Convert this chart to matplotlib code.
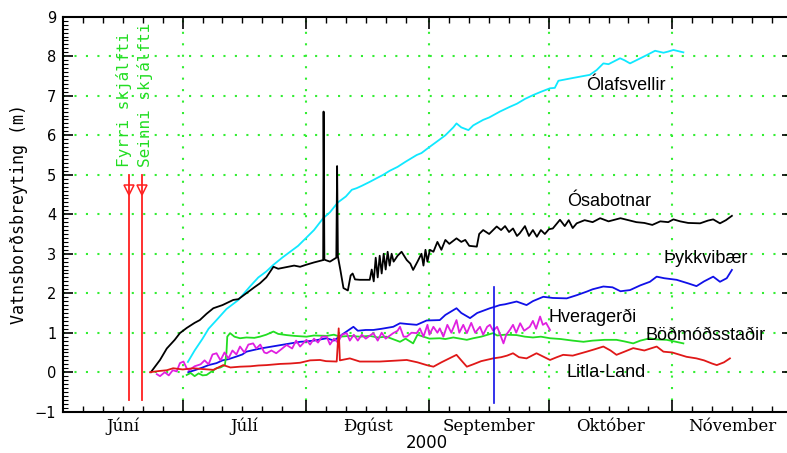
import numpy as np
import matplotlib
matplotlib.use('Agg')
import matplotlib.pyplot as plt
from matplotlib.ticker import FixedLocator, MultipleLocator, NullFormatter

# x is days since 1 June 2000, y is water level change (m)
month_starts = [0, 30, 61, 92, 122, 153, 183]
month_names = ['Júní', 'Júlí', 'Ðgúst', 'September', 'Október', 'Nóvember']

quake_days = [16.5, 19.9]
quake_labels = ['Fyrri skjálfti', 'Seinni skjálfti']

olafsvellir = [(31.3, 0.26), (33, 0.55), (35, 0.85), (36.5, 1.1), (38.5, 1.32), (41, 1.6),
               (44, 1.83), (46.9, 2.17), (49, 2.4), (51, 2.55), (52.8, 2.72), (55, 2.9),
               (57, 3.05), (59, 3.2), (61, 3.4), (63, 3.6), (65.3, 3.9), (67, 4.05),
               (69, 4.3), (71, 4.45), (72.5, 4.62), (73.7, 4.66), (75, 4.72), (77, 4.82),
               (78.5, 4.9), (80.4, 5.0), (82, 5.1), (84, 5.2), (86, 5.33), (88.8, 5.5),
               (90, 5.55), (92.1, 5.71), (94, 5.85), (96, 6.0), (98, 6.2), (98.8, 6.3),
               (100, 6.2), (101.8, 6.13), (103, 6.25), (105.5, 6.39), (107, 6.45),
               (109.7, 6.6), (112.2, 6.72), (114, 6.8), (116, 6.92), (118.1, 7.02),
               (120, 7.1), (122.3, 7.19), (123.5, 7.2), (124.4, 7.38), (128, 7.45),
               (132.3, 7.53), (134, 7.65), (135.7, 7.82), (137, 7.8), (139.9, 7.95),
               (141, 7.9), (142.4, 7.82), (144, 7.9), (146.6, 8.03), (148.7, 8.14),
               (150.8, 8.09), (152, 8.12), (153.3, 8.16), (155.8, 8.1)]

osabotnar = [(22, 0.0), (24.3, 0.31), (26, 0.6), (28, 0.82), (29.3, 0.99), (31, 1.12),
             (33, 1.25), (34.3, 1.32), (36, 1.48), (37.7, 1.62), (40, 1.7), (42.7, 1.83),
             (44, 1.85), (46, 2.0), (48, 2.15), (49.4, 2.25), (51, 2.4), (52.8, 2.67),
             (54, 2.62), (56, 2.66), (58, 2.7), (59.5, 2.67), (61, 2.72), (63, 2.78),
             (65.3, 2.84), (65.4, 6.6), (65.6, 2.85), (67, 2.8), (68.6, 2.9), (68.8, 5.22),
             (69.0, 2.93), (69.6, 2.6), (70.4, 2.13), (71.5, 2.07), (72.2, 2.45),
             (72.7, 2.5), (73.3, 2.35), (74.5, 2.34), (77, 2.34), (77.5, 2.6), (78, 2.3),
             (78.5, 2.9), (79, 2.4), (79.5, 2.95), (80, 2.5), (80.5, 3.0), (81, 2.6),
             (81.5, 3.05), (82, 2.7), (82.5, 3.0), (83, 2.8), (84, 2.95), (85, 3.05),
             (86.3, 2.84), (87.2, 2.75), (87.9, 2.59), (89, 2.8), (90, 3.0), (90.5, 2.7),
             (91, 3.1), (91.5, 2.8), (92.1, 3.1), (93, 3.05), (94, 3.3), (95, 3.1),
             (96, 3.35), (97, 3.25), (98.8, 3.39), (100, 3.3), (101, 3.35), (102, 3.2),
             (103.9, 3.18), (104.5, 3.5), (105.5, 3.6), (107, 3.5), (108.9, 3.69),
             (110, 3.6), (111, 3.7), (112, 3.55), (113, 3.64), (114, 3.45), (114.7, 3.52),
             (116, 3.7), (117, 3.45), (118, 3.6), (119, 3.43), (120, 3.6), (121, 3.5),
             (122, 3.62), (123, 3.64), (124.8, 3.86), (126, 3.7), (127, 3.85),
             (128, 3.65), (129, 3.77), (131, 3.85), (133, 3.8), (134.9, 3.9),
             (137, 3.82), (140, 3.9), (142, 3.85), (144, 3.8), (146, 3.78), (148, 3.73),
             (150, 3.82), (152, 3.8), (153.3, 3.87), (155, 3.82), (157, 3.78),
             (160, 3.77), (162, 3.84), (163.3, 3.87), (165, 3.77), (166.5, 3.85),
             (168, 3.96)]

thykkvibaer = [(31.4, 0.0), (33, 0.05), (35, 0.12), (36.5, 0.18), (38.5, 0.23), (40, 0.3),
               (41.5, 0.33), (43.6, 0.4), (45, 0.45), (46, 0.52), (47.7, 0.56),
               (49.5, 0.6), (59.5, 0.77), (61, 0.78), (63, 0.8), (66.2, 0.86), (68, 0.8),
               (70, 0.95), (72.9, 1.15), (74, 1.05), (76, 1.07), (77.9, 1.07), (80, 1.1),
               (82.9, 1.15), (84.6, 1.24), (86.5, 1.22), (88.8, 1.2), (91.3, 1.31),
               (94.6, 1.32), (96, 1.45), (98.8, 1.62), (100, 1.5), (102.2, 1.37),
               (104, 1.5), (107.2, 1.62), (108.2, 1.65), (109.7, 1.7), (111, 1.72),
               (113.9, 1.79), (116.4, 1.7), (118, 1.8), (120.6, 1.91), (123, 1.88),
               (126.5, 1.87), (129, 1.95), (131.5, 2.04), (133, 2.1), (135.7, 2.17),
               (138, 2.15), (140, 2.05), (142.4, 2.08), (145, 2.2), (147.4, 2.29),
               (149.1, 2.42), (151, 2.38), (154.1, 2.34), (157, 2.25), (159.1, 2.18),
               (161, 2.3), (163.3, 2.42), (165, 2.29), (166.7, 2.38), (168, 2.59)]

hveragerdi = [(23.5, -0.05), (24.3, -0.1), (25.5, 0.0), (26.5, -0.08), (27.5, 0.05),
              (28.5, 0.02), (29.3, 0.23), (30.2, 0.27), (31.0, 0.1), (31.6, 0.05),
              (33, 0.15), (34.5, 0.2), (35.5, 0.3), (36.5, 0.2), (37.5, 0.45),
              (38.5, 0.48), (39.5, 0.3), (40.5, 0.5), (41.5, 0.35), (42.5, 0.55),
              (43.5, 0.45), (44.4, 0.65), (45.5, 0.5), (46.5, 0.7), (47.7, 0.73),
              (48.5, 0.6), (49.5, 0.7), (50.5, 0.5), (51.1, 0.48), (52.3, 0.55),
              (53.5, 0.48), (55, 0.6), (56.1, 0.69), (57.5, 0.6), (58.5, 0.8),
              (59.5, 0.65), (61.1, 0.82), (62, 0.7), (63, 0.85), (64, 0.75), (65, 0.9),
              (66.2, 0.9), (67, 0.7), (68, 0.85), (69, 0.75), (70, 0.95), (71.2, 0.99),
              (72, 0.8), (73, 0.95), (74, 0.8), (75, 0.95), (76, 0.85), (77.9, 0.99),
              (79, 0.8), (80, 1.0), (81, 0.85), (82.9, 0.99), (84, 1.05), (84.6, 1.15),
              (85.5, 0.9), (86.3, 0.9), (87.5, 1.0), (88.8, 0.99), (89.6, 1.11),
              (90.5, 0.9), (91.5, 1.2), (92, 0.95), (93, 1.15), (94, 1.0), (94.6, 1.11),
              (95.5, 0.9), (96.5, 1.2), (97.5, 1.0), (98.8, 1.32), (99.5, 1.0),
              (100.5, 1.2), (101.4, 0.99), (102.5, 1.25), (103.5, 1.0), (104.7, 1.15),
              (105.5, 0.95), (106.5, 1.15), (107.2, 1.2), (108, 1.05), (109, 1.15),
              (109.8, 0.95), (110.6, 0.73), (111.3, 0.95), (112.2, 1.07), (113, 1.2),
              (113.8, 1.0), (114.8, 1.24), (115.8, 1.05), (117.2, 1.15), (118, 1.3),
              (118.8, 1.1), (119.8, 1.41), (120.5, 1.2), (121.3, 1.25), (122.3, 1.07)]

bodmodsstadir = [(31, -0.07), (32, -0.02), (33, -0.1), (34, -0.03), (35, -0.08), (36, -0.07),
                 (37, 0.0), (38.5, 0.1), (39.5, 0.12), (40.6, 0.18), (41.0, 0.5), (41.2, 0.9),
                 (41.9, 0.99), (43, 0.9), (44.4, 0.86), (46, 0.88), (48, 0.87), (49.4, 0.9),
                 (51, 0.95), (52.8, 1.03), (54, 0.97), (56.1, 0.94), (58, 0.92), (61.1, 0.9),
                 (63, 0.93), (66.2, 0.92), (68, 0.95), (69.5, 0.9), (72, 0.92), (74.5, 0.9),
                 (77, 0.92), (79, 0.88), (81.2, 0.9), (82.5, 0.85), (84.6, 0.77), (86, 0.85),
                 (87.9, 0.73), (89, 0.95), (90.5, 0.9), (92, 0.85), (94.6, 0.86), (96, 0.84),
                 (98, 0.88), (101.4, 0.82), (103, 0.86), (105, 0.9), (108, 0.99), (109, 0.93),
                 (111, 0.95), (113.9, 0.94), (116, 0.9), (118, 0.88), (120, 0.9),
                 (122.3, 0.86), (125, 0.84), (128, 0.8), (130.7, 0.77), (133, 0.8),
                 (136, 0.82), (139, 0.82), (141, 0.78), (143.2, 0.73), (145, 0.8),
                 (147.4, 0.86), (149, 0.83), (151.6, 0.82), (153.5, 0.78), (155.8, 0.73)]

litla_land = [(21.8, 0.0), (24, 0.03), (26, 0.05), (27.6, 0.1), (30, 0.07), (32.7, 0.1),
              (35, 0.08), (37.7, 0.06), (40.2, 0.18), (42, 0.12), (44.4, 0.14), (47, 0.15),
              (49, 0.17), (51.1, 0.18), (54.5, 0.21), (57, 0.22), (59.5, 0.24), (62, 0.3),
              (64.5, 0.31), (66, 0.28), (68.7, 0.27), (69.2, 1.11), (69.5, 0.3), (72, 0.35),
              (74.5, 0.27), (77, 0.27), (79.5, 0.27), (83, 0.29), (86.3, 0.31), (89, 0.25),
              (91.3, 0.18), (93, 0.14), (95, 0.25), (97, 0.35), (98.8, 0.44), (100, 0.3),
              (101.4, 0.14), (103, 0.2), (105, 0.28), (108, 0.35), (110, 0.38),
              (111.5, 0.42), (113, 0.48), (114.5, 0.38), (116.4, 0.35), (118.9, 0.48),
              (120.5, 0.4), (122.3, 0.31), (124, 0.38), (125.6, 0.44), (128, 0.42),
              (131.5, 0.52), (133.5, 0.58), (135.7, 0.65), (137.5, 0.55), (139, 0.44),
              (141, 0.52), (143.2, 0.61), (146, 0.55), (149.1, 0.65), (150.8, 0.52),
              (153, 0.5), (156.6, 0.39), (159.1, 0.35), (161, 0.3), (163, 0.22),
              (164.2, 0.18), (166, 0.25), (167.5, 0.35)]

# vertical marker line on the blue series
blue_mark_day = 108.2
blue_mark_range = (-0.78, 2.17)

series = [
    (olafsvellir, '#10e8ff', 'Ólafsvellir', (131.4, 7.27)),
    (osabotnar, 'k', 'Ósabotnar', (126.5, 4.32)),
    (thykkvibaer, '#1010e8', 'Þykkvibær', (150.7, 2.89)),
    (bodmodsstadir, '#22dd22', 'Böðmóðsstaðir', (146.2, 0.94)),
    (hveragerdi, '#e020e0', 'Hveragerði', (121.8, 1.40)),
    (litla_land, '#e01818', 'Litla-Land', (126.5, -0.02)),
]

fig = plt.figure(figsize=(7.87, 4.53), dpi=100)
ax = fig.add_axes([63.3 / 787, 41.3 / 453, 728.3 / 787, 394.9 / 453])

gridcol = '#33ee33'
for d in month_starts[1:-1]:
    ax.axvline(d, color=gridcol, lw=1.5, linestyle=(0, (1, 4.5)), zorder=1)
for yv in range(0, 9):
    ax.axhline(yv, color=gridcol, lw=1.5, linestyle=(0, (1, 4.5)), zorder=1)

for data, col, name, pos in series:
    arr = np.array(data)
    ax.plot(arr[:, 0], arr[:, 1], color=col, lw=1.3, zorder=3)
    ax.text(pos[0], pos[1], name, color='k', fontsize=13, family='Liberation Sans',
            ha='left', va='center', zorder=5)

ax.plot([blue_mark_day, blue_mark_day], blue_mark_range, color='#1010e8', lw=1.2, zorder=3)

# zemetrasenie
for d, lab in zip(quake_days, quake_labels):
    ax.plot([d, d], [-0.7, 5.0], color='#ff2020', lw=1.3, zorder=3)
    ax.plot([d], [4.62], marker='v', ms=7, mfc='none', mec='#ff2020', mew=1.1, zorder=4)
for d, lab in zip([15.3, 20.6], quake_labels):
    ax.text(d, 5.2, lab, rotation=90, color='#22dd22', fontsize=11.5,
            family='DejaVu Sans Mono', ha='center', va='bottom')

ax.set_xlim(0, 183)
ax.set_ylim(-1, 9)

ax.xaxis.set_major_locator(FixedLocator(month_starts))
minor_x = [m + k for m in month_starts[:-1] for k in (5, 10, 15, 20, 25)]
ax.xaxis.set_minor_locator(FixedLocator(minor_x))
ax.xaxis.set_major_formatter(NullFormatter())
ax.yaxis.set_major_locator(MultipleLocator(1))
ax.yaxis.set_minor_locator(MultipleLocator(0.1))

ax.tick_params(which='both', direction='in', top=True, right=True, labelsize=10.5, pad=5)
ax.tick_params(axis='x', which='major', length=8.5, width=1.2)
ax.tick_params(axis='x', which='minor', length=4.5, width=1.0)
ax.tick_params(axis='y', which='major', length=7, width=1.2)
ax.tick_params(axis='y', which='minor', length=3.5, width=0.8)
for sp in ax.spines.values():
    sp.set_linewidth(1.5)

for i, name in enumerate(month_names):
    c = 0.5 * (month_starts[i] + month_starts[i + 1])
    ax.text(c, -0.038, name, transform=ax.get_xaxis_transform(), ha='center', va='center',
            fontsize=12, family='DejaVu Serif')

fig.text(427 / 787, 1 - 443 / 453, '2000', ha='center', va='center', fontsize=12)
fig.text(19 / 787, 1 - 214 / 453, 'Vatnsborðsbreyting (m)', rotation=90, ha='center',
         va='center', fontsize=12, family='DejaVu Sans Mono')

fig.savefig('out.png', dpi=100)
